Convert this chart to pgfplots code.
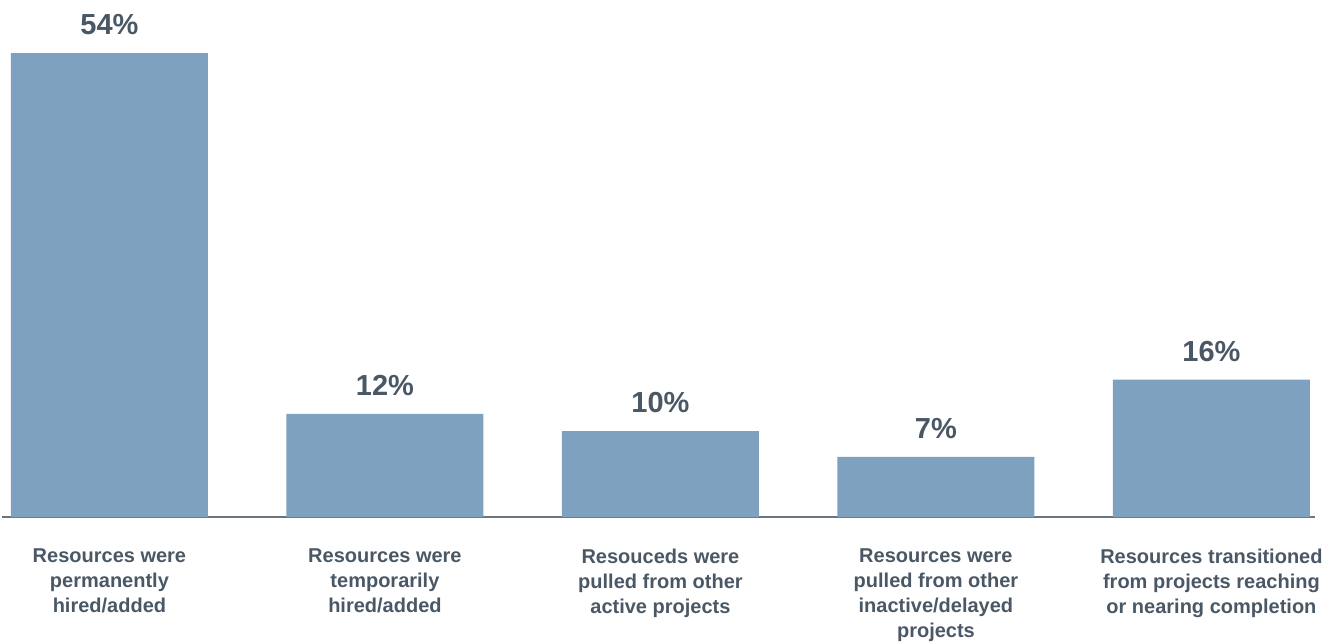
\documentclass[border=0pt]{standalone}
\usepackage{fontspec}
\setmainfont{Liberation Sans}
\usepackage{pgfplots}
\pgfplotsset{compat=1.18}
\definecolor{barblue}{HTML}{7DA1BF}
\definecolor{txt}{HTML}{4A5866}
\definecolor{axgray}{HTML}{6B7580}
\begin{document}
\begin{tikzpicture}
\begin{axis}[
  at={(0,0)}, anchor=south west,
  scale only axis,
  width=1313pt, height=517pt,
  xmin=-0.390, xmax=4.376,
  ymin=0, ymax=60.17,
  axis x line*=bottom,
  axis y line=none,
  x axis line style={draw=axgray, line width=1.3pt, -},
  xtick=data,
  major tick length=0pt,
  xticklabels={{Resources were\\permanently\\hired/added},
               {Resources were\\temporarily\\hired/added},
               {Resouceds were\\pulled from other\\active projects},
               {Resources were\\pulled from other\\inactive/delayed\\projects},
               {Resources transitioned\\from projects reaching\\or nearing completion}},
  xticklabel style={align=center, font=\bfseries\fontsize{20}{25}\selectfont, text=txt, inner sep=0pt, yshift=-32pt},
  ybar, bar width=197pt,
  /pgf/number format/assume math mode=true,
  nodes near coords={\pgfmathprintnumber{\pgfplotspointmeta}\%},
  nodes near coords style={font=\bfseries\fontsize{29}{36}\selectfont, text=txt, inner sep=0pt, anchor=south, yshift=18pt, /pgf/number format/assume math mode=true},
  clip=false,
]
\addplot[fill=barblue, draw=none] coordinates {(0,54) (1,12) (2,10) (3,7) (4,16)};
\end{axis}
\path[use as bounding box] (-2pt,-126pt) rectangle (1332pt,517pt);
\end{tikzpicture}
\end{document}
